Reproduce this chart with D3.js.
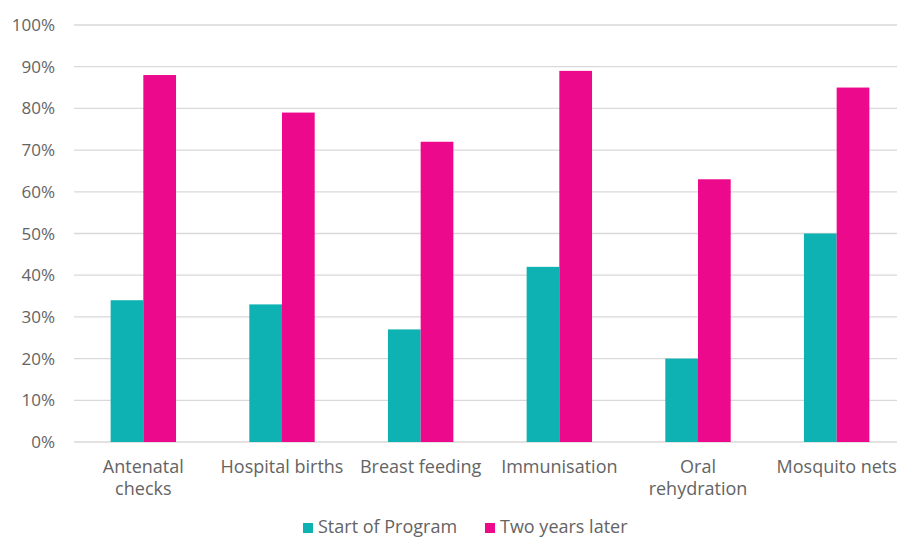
<!DOCTYPE html>
<html>
<head>
<meta charset="utf-8">
<script src="https://cdn.jsdelivr.net/npm/d3@7"></script>
<style>
  body { margin: 0; background: #fff; }
  svg text { font-family: "Open Sans", Lato, sans-serif; fill: #646464; }
</style>
</head>
<body>
<svg id="chart" width="897" height="538"></svg>
<script>
'use strict';

var categories = [['Antenatal', 'checks'], ['Hospital births'], ['Breast feeding'],
  ['Immunisation'], ['Oral', 'rehydration'], ['Mosquito nets']];
var startValues = [34, 33, 27, 42, 20, 50];
var laterValues = [88, 79, 72, 89, 63, 85];
var seriesNames = ['Start of Program', 'Two years later'];
var seriesColors = ['#0fb2b2', '#ec098c'];
var yTicks = [0, 10, 20, 30, 40, 50, 60, 70, 80, 90, 100];

var svg = d3.select('#chart');
var margin = { left: 74, right: -9, top: 25, bottom: 96 };
var width = 897 - margin.left - margin.right;
var height = 538 - margin.top - margin.bottom;

var g = svg.append('g').attr('transform', 'translate(' + margin.left + ',' + margin.top + ')');

var x = d3.scaleBand().domain(d3.range(categories.length)).range([0, width]);
var bw = 32.7;
var y = d3.scaleLinear().domain([0, 100]).range([height, 0]);

// gridlines
g.selectAll('.grid').data(yTicks).enter().append('line')
  .attr('x1', 0).attr('x2', width)
  .attr('y1', function (d) { return y(d); }).attr('y2', function (d) { return y(d); })
  .attr('stroke', '#d9d9d9').attr('stroke-width', 1.3);

// y labels
g.selectAll('.ylab').data(yTicks).enter().append('text')
  .attr('x', -19).attr('y', function (d) { return y(d) + 6; })
  .attr('text-anchor', 'end').style('font-size', '17px')
  .text(function (d) { return d + '%'; });

var series = [startValues, laterValues];
series.forEach(function (vals, s) {
  g.selectAll('.bar' + s).data(vals).enter().append('rect')
    .attr('x', function (d, i) { return x(i) + x.bandwidth() / 2 - bw + s * bw; })
    .attr('width', bw)
    .attr('y', function (d) { return y(d); })
    .attr('height', function (d) { return height - y(d); })
    .attr('fill', seriesColors[s]);
});

// category labels
var cl = g.selectAll('.cat').data(categories).enter().append('text')
  .attr('text-anchor', 'middle').style('font-size', '18px')
  .attr('transform', function (d, i) { return 'translate(' + (x(i) + x.bandwidth() / 2) + ',' + (height + 31) + ')'; });
cl.selectAll('tspan').data(function (d) { return d; }).enter().append('tspan')
  .attr('x', 0).attr('dy', function (d, i) { return i === 0 ? 0 : 22; })
  .text(function (d) { return d; });

// legend
var legX = [303, 485];
seriesNames.forEach(function (name, s) {
  svg.append('rect').attr('x', legX[s]).attr('y', 523).attr('width', 10).attr('height', 10)
    .attr('fill', seriesColors[s]);
  svg.append('text').attr('x', legX[s] + 15).attr('y', 533).style('font-size', '18px').text(name);
});
</script>
</body>
</html>
